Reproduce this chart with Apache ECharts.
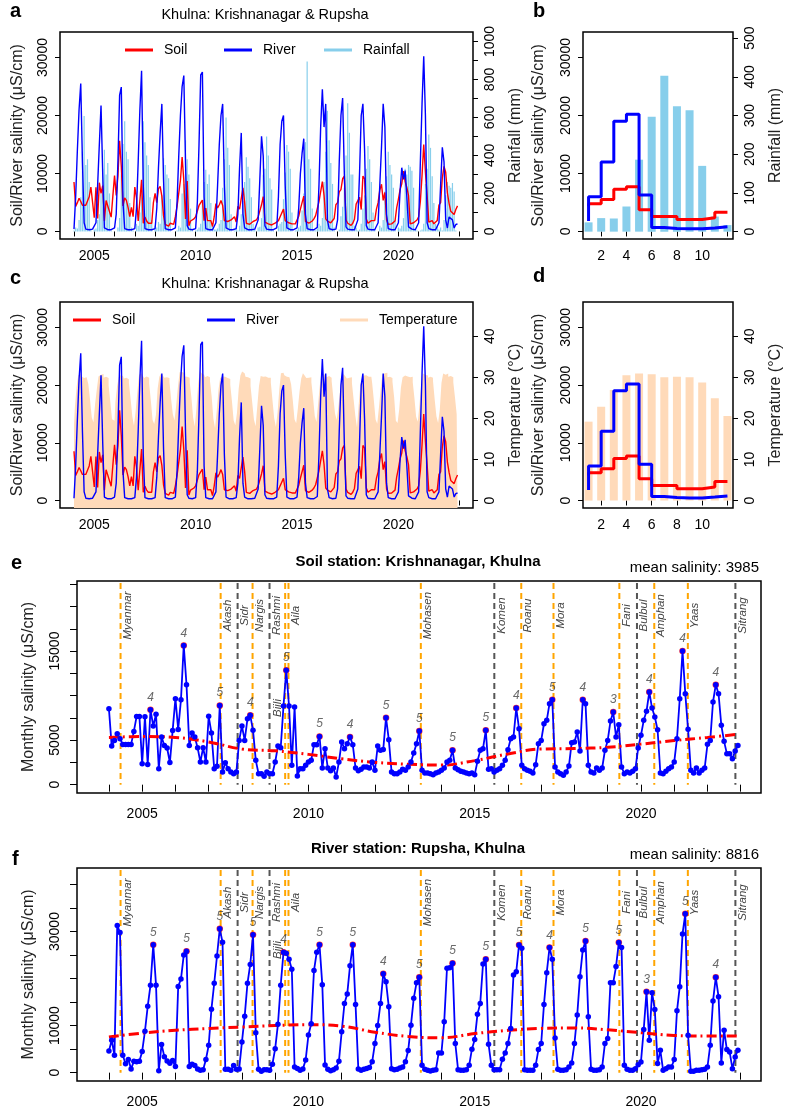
<!DOCTYPE html>
<html>
<head>
<meta charset="utf-8">
<script src="https://cdn.jsdelivr.net/npm/echarts@6/dist/echarts.min.js"></script>
<style>
  html, body { margin: 0; padding: 0; background: #fff; }
  #chart { width: 786px; height: 1113px; }
</style>
</head>
<body>
<div id="chart"></div>
<script>
// ---- data (monthly, Jan 2004 .. Dec 2022) ----
const startYear = 2004;
const yearTicks = [2004, 2005, 2006, 2007, 2008, 2009, 2010, 2011, 2012, 2013, 2014, 2015, 2016, 2017, 2018, 2019, 2020, 2021, 2022, 2023];
const yearLabels = [2005, 2010, 2015, 2020];
const monthTicks = [2, 4, 6, 8, 10, 12];
const monthLabels = [2, 4, 6, 8, 10];

// soil station Krishnanagar (uS/cm)
const soilSalinity = [
  8530, 4330, 4970, 5720, 5160, 4520, 4520, 4520, 4520, 5980, 7660, 7660,
  2360, 7630, 2260, 8410, 6580, 7910, 1800, 5340, 4400, 4120, 2480, 6090,
  9650, 6200, 9540, 15630, 11220, 4410, 5800, 5350, 4150, 2540, 4150, 2540,
  7670, 5800, 1800, 2060, 8900, 1420, 2470, 1800, 1420, 1230, 1420, 4970,
  6580, 4970, 7400, 7780, 6100, 2730, 1230, 1230, 935, 1420, 1230, 1230,
  2540, 4340, 4150, 8830, 12830, 8830, 2170, 8710, 970, 1800, 1800, 2170,
  2540, 2730, 4490, 4490, 5420, 1870, 4040, 1870, 1570, 1870, 860, 2540,
  4790, 4040, 4600, 5350, 4490, 1870, 1570, 1720, 1980, 1980, 1870, 2540,
  1610, 4340, 3850, 3960, 7520, 5050, 1420, 1230, 1230, 1420, 1720, 1610,
  1980, 2540, 3550, 4600, 6020, 1610, 1310, 1310, 1230, 1120, 1310, 1420,
  1610, 1870, 2540, 2730, 3850, 1870, 1680, 1500, 1420, 1310, 1230, 1310,
  1120, 2620, 3850, 4040, 6100, 1720, 1800, 1420, 1610, 1800, 2170, 2730,
  3930, 5160, 5350, 8600, 6280, 2170, 1800, 1610, 1500, 1310, 2240, 4600,
  4970, 6840, 7220, 9090, 9540, 1980, 1420, 1230, 1050, 1420, 2090, 4710,
  4790, 5910, 3780, 9540, 9090, 2170, 1420, 1310, 1870, 1610, 1870, 3850,
  4970, 7140, 8150, 5350, 6730, 1980, 1230, 1420, 1310, 1500, 1800, 4110,
  5540, 7220, 8230, 10400, 8600, 7590, 6170, 1310, 1230, 1500, 1800, 1980,
  2540, 5160, 9650, 15000, 10210, 6210, 1610, 1310, 1870, 1310, 1610, 1870,
  4530, 4970, 9280, 11220, 10210, 6660, 4860, 3480, 3480, 2920, 3780, 4410
];

// river station Rupsha, monthly salinity (panel f)
const riverSalinity = [
  4600, 6900, 3700, 31300, 29800, 3700, 1900, 2800, 800, 2400, 2300, 2400,
  4500, 8800, 14100, 18600, 27200, 18600, 400, 6000, 3400, 2500, 2000, 2600,
  1300, 18300, 19900, 25000, 25800, 1300, 1800, 1500, 800, 500, 600, 2800,
  5800, 13500, 19000, 24800, 30600, 27700, 700, 700, 500, 1500, 700, 800,
  6500, 12000, 19000, 23000, 29300, 8500, 700, 300, 600, 600, 500, 1800,
  5100, 10300, 18600, 25600, 25400, 24100, 22000, 1200, 900, 500, 800, 2700,
  8000, 10400, 21700, 25600, 27200, 18700, 1600, 700, 400, 600, 1000, 2400,
  8700, 14700, 16700, 22700, 27200, 14500, 800, 500, 700, 900, 1100, 2300,
  6200, 10000, 14700, 21000, 19300, 14000, 850, 600, 700, 1000, 1200, 2300,
  4700, 10100, 15800, 19100, 20300, 1560, 710, 500, 360, 500, 640, 4200,
  4200, 10800, 22200, 22300, 23250, 6200, 640, 500, 500, 640, 1560, 4980,
  7040, 12440, 14720, 23100, 24100, 6040, 1560, 640, 640, 640, 2840, 4200,
  6200, 9390, 20760, 21470, 27160, 26450, 640, 500, 500, 500, 1560, 4910,
  6200, 14500, 21260, 26590, 24100, 7390, 710, 500, 500, 640, 1200, 2060,
  6200, 12230, 20400, 26100, 28010, 11870, 710, 500, 500, 640, 1200, 6200,
  7250, 19130, 19130, 22540, 27660, 26590, 1560, 710, 500, 500, 850, 1700,
  2280, 9170, 17200, 6900, 17000, 13440, 1920, 4760, 500, 850, 1200, 1200,
  2770, 13150, 18270, 29500, 33770, 7960, 280, 280, 500, 500, 640, 710,
  1200, 5830, 15220, 20260, 16140, 2060, 9030, 4910, 4410, 850, 3340, 4760
];

// river series shown with rainfall / temperature (panels a, c)
const riverTs = [
  400, 6000, 14000, 21000, 25500, 12000, 1500, 400, 300, 300, 300, 400,
  400, 1500, 8000, 15000, 21700, 10000, 600, 400, 300, 300, 300, 400,
  600, 3000, 12000, 23500, 24900, 5000, 500, 400, 300, 300, 300, 400,
  500, 4000, 12000, 21000, 27700, 8000, 500, 400, 300, 300, 300, 400,
  500, 4000, 11000, 17000, 22000, 9000, 500, 400, 300, 300, 300, 400,
  600, 5000, 13000, 20000, 25000, 26900, 12000, 1000, 400, 300, 300, 400,
  500, 5000, 15000, 27000, 27500, 6000, 500, 400, 300, 300, 300, 400,
  1500, 8000, 15000, 20000, 22000, 8000, 600, 400, 300, 300, 300, 400,
  500, 3000, 11000, 17000, 3000, 600, 400, 300, 300, 300, 300, 400,
  500, 2000, 9000, 16400, 13000, 1000, 400, 300, 300, 300, 300, 400,
  600, 6000, 15000, 19000, 20000, 8000, 600, 400, 300, 300, 300, 400,
  600, 4000, 10000, 13500, 16000, 3000, 500, 400, 300, 300, 300, 400,
  700, 8000, 18000, 24500, 18000, 22000, 2000, 500, 300, 300, 300, 400,
  2000, 12000, 20000, 23000, 10000, 800, 400, 300, 300, 300, 300, 400,
  2000, 10000, 20000, 22000, 14000, 1000, 400, 300, 300, 300, 300, 400,
  1500, 8000, 14500, 22000, 18000, 3000, 500, 400, 300, 300, 300, 400,
  1500, 7000, 11000, 9000, 10500, 6000, 800, 500, 400, 300, 300, 400,
  1500, 12000, 22000, 30200, 20000, 1500, 500, 400, 300, 300, 300, 400,
  1500, 8000, 14500, 12000, 2000, 600, 2500, 2200, 2000, 600, 1200, 1300
];

// rainfall (mm)
const rainfall = [
  5, 20, 15, 60, 180, 420, 608, 350, 380, 260, 10, 0,
  10, 15, 60, 90, 200, 330, 430, 300, 360, 200, 5, 0,
  0, 0, 20, 70, 300, 460, 580, 420, 380, 150, 20, 5,
  0, 40, 30, 100, 220, 580, 470, 400, 350, 180, 60, 0,
  30, 20, 50, 40, 190, 385, 350, 300, 280, 170, 0, 0,
  0, 5, 30, 20, 200, 250, 480, 380, 300, 120, 10, 0,
  5, 10, 20, 40, 150, 260, 325, 250, 300, 150, 30, 10,
  10, 15, 40, 60, 230, 380, 600, 440, 350, 90, 0, 5,
  20, 5, 30, 90, 160, 260, 390, 340, 280, 180, 40, 10,
  0, 20, 25, 70, 300, 330, 500, 400, 280, 220, 5, 0,
  0, 30, 40, 50, 170, 310, 455, 420, 330, 100, 0, 5,
  10, 20, 30, 110, 200, 470, 895, 380, 330, 120, 10, 5,
  15, 40, 30, 70, 260, 420, 635, 480, 360, 250, 20, 0,
  0, 10, 80, 130, 230, 400, 675, 520, 300, 300, 30, 20,
  5, 10, 40, 120, 190, 330, 450, 380, 260, 100, 10, 0,
  0, 30, 20, 60, 210, 290, 420, 350, 300, 230, 60, 0,
  20, 15, 30, 70, 330, 300, 350, 340, 320, 230, 10, 5,
  0, 5, 10, 40, 250, 330, 510, 440, 290, 150, 40, 30,
  10, 20, 5, 60, 190, 260, 240, 230, 255, 210, 5, 0
];

// temperature (deg C)
const temperature = [
  18.5, 22.5, 27.5, 30.5, 30.8, 30.2, 29.8, 30.0, 29.6, 28.3, 24.5, 20.3,
  19.0, 23.5, 27.0, 30.2, 30.6, 30.8, 29.9, 30.1, 29.8, 28.0, 24.0, 19.8,
  19.4, 24.0, 27.8, 30.0, 30.5, 30.3, 29.7, 29.9, 29.5, 28.6, 24.8, 20.5,
  18.2, 21.8, 26.4, 30.6, 31.0, 30.5, 29.8, 30.2, 29.9, 28.4, 24.2, 19.6,
  18.6, 20.8, 27.2, 30.1, 30.9, 30.4, 29.9, 30.0, 29.8, 28.9, 24.6, 21.0,
  19.5, 23.2, 27.6, 31.2, 31.3, 31.0, 30.2, 30.1, 29.9, 28.8, 25.0, 20.2,
  18.0, 22.6, 28.4, 31.5, 31.0, 30.6, 30.0, 30.3, 30.0, 29.0, 25.2, 19.9,
  17.6, 21.9, 26.9, 29.8, 30.2, 30.1, 29.7, 29.8, 29.6, 28.2, 24.1, 19.5,
  18.3, 21.5, 27.3, 30.4, 31.4, 31.0, 30.1, 30.0, 29.7, 27.9, 23.8, 19.7,
  18.1, 23.0, 27.9, 30.3, 30.1, 30.2, 29.8, 29.9, 29.9, 28.7, 24.3, 20.0,
  17.9, 21.4, 27.0, 31.0, 31.1, 30.5, 30.1, 30.0, 29.8, 28.3, 24.4, 19.8,
  18.8, 22.4, 26.6, 29.7, 31.0, 30.4, 29.8, 29.9, 30.0, 28.8, 25.0, 20.6,
  19.1, 23.6, 28.0, 31.3, 30.7, 30.6, 30.0, 30.3, 29.9, 29.1, 25.0, 21.2,
  19.6, 22.9, 26.8, 29.9, 30.8, 30.3, 29.7, 29.9, 30.0, 28.6, 24.6, 20.7,
  17.8, 23.3, 28.1, 29.9, 30.4, 30.5, 30.1, 30.2, 30.1, 28.5, 24.3, 19.7,
  18.7, 22.7, 27.2, 30.6, 31.0, 31.1, 30.0, 30.1, 29.8, 28.9, 25.1, 19.4,
  18.9, 22.2, 27.5, 30.0, 30.4, 30.2, 29.9, 30.0, 30.1, 28.8, 24.9, 20.4,
  19.2, 23.4, 28.3, 30.9, 30.6, 30.4, 29.9, 30.1, 29.9, 29.0, 24.5, 20.5,
  18.9, 22.1, 28.6, 30.9, 30.6, 30.9, 30.1, 30.3, 30.0, 28.8, 25.1, 21.0
];

// monthly climatology (panels b, d)
const months = [1, 2, 3, 4, 5, 6, 7, 8, 9, 10, 11, 12];
const stepX = [1, 1, 2, 3, 4, 5, 6, 7, 8, 9, 10, 11, 12];
const soilByMonth = [4350, 4800, 5500, 7300, 7700, 3750, 2600, 2600, 2050, 2050, 2350, 3300, 3300];
const riverByMonth = [1800, 6000, 12000, 19000, 20200, 6300, 700, 500, 450, 450, 600, 800, 800];
const rainByMonth = [24, 35, 34, 65, 186, 297, 403, 324, 314, 170, 39, 17];
const tempByMonth = [19.2, 22.8, 26.9, 30.5, 30.9, 30.7, 30.0, 30.1, 30.0, 28.7, 24.9, 20.6];

// smooth trends (panels e, f)
const trendYears = [2004, 2005, 2006, 2007, 2008, 2009, 2010, 2011, 2012, 2013, 2014, 2015, 2016, 2017, 2018, 2019, 2020, 2021, 2022, 2022.9];
const soilTrend = [5300, 5400, 5300, 4800, 4000, 3800, 3400, 2900, 2500, 2300, 2200, 2700, 3450, 4000, 4050, 4200, 4550, 4950, 5300, 5650];
const riverTrend = [7600, 8400, 9000, 9400, 9700, 10000, 10200, 9900, 8600, 7700, 7400, 8300, 9000, 9400, 9500, 9100, 8500, 7900, 7800, 7800];

// cyclones
const cycloneNames = ['Myanmar', 'Akash', 'Sidr', 'Nargis', 'Rashmi', 'Bijli', 'Aila', 'Mohasen', 'Komen', 'Roanu', 'Mora', 'Fani', 'Bulbul', 'Amphan', 'Yaas', 'Sitrang'];
const cycloneDates = [2004.35, 2007.36, 2007.87, 2008.32, 2008.83, 2009.30, 2009.40, 2013.38, 2015.59, 2016.40, 2017.37, 2019.35, 2019.88, 2020.40, 2021.41, 2022.84];
const cycloneSeason = ['pre', 'pre', 'post', 'pre', 'post', 'pre', 'pre', 'pre', 'post', 'pre', 'pre', 'pre', 'post', 'pre', 'pre', 'post'];

const meanSoil = 3985;
const meanRiver = 8816;

// ---- helpers ----
const FONT = 'Liberation Sans, Arial, sans-serif';
const ts = arr => arr.map((v, i) => [startYear + i / 12, v]);
const pairs = (xs, ys) => xs.map((x, i) => [x, ys[i]]);

function yearlyPeaks(arr) {
  const out = [];
  for (let y = 1; y < arr.length / 12; y++) {
    let best = y * 12;
    for (let k = y * 12; k < y * 12 + 12; k++) if (arr[k] > arr[best]) best = k;
    out.push([startYear + best / 12, arr[best], (best % 12) + 1]);
  }
  return out;
}

function range(a, b, step) { const r = []; for (let v = a; v <= b; v += step) r.push(v); return r; }

function xAx(grid, min, max, ticks, labels, tickLen, margin) {
  return {
    type: 'value', gridIndex: grid, min, max,
    axisLine: { show: false }, splitLine: { show: false },
    axisTick: { show: true, customValues: ticks, length: tickLen, lineStyle: { color: '#000', width: 1 } },
    axisLabel: { customValues: labels, formatter: v => String(v), color: '#000', fontSize: 14, fontFamily: FONT, margin }
  };
}

function yAx(grid, pos, min, max, ticks, labels, name, gap, margin, tickLen) {
  return {
    type: 'value', gridIndex: grid, position: pos, min, max,
    name, nameLocation: 'middle', nameGap: gap, nameRotate: 90,
    nameTextStyle: { fontSize: 16, color: '#222', fontFamily: FONT },
    axisLine: { show: false }, splitLine: { show: false },
    axisTick: { show: true, customValues: ticks, length: tickLen, lineStyle: { color: '#000', width: 1 } },
    axisLabel: { customValues: labels, rotate: 90, formatter: v => String(v), color: '#000', fontSize: 14, fontFamily: FONT, margin }
  };
}

function cycloneRender(bijliDy) {
  return function (params, api) {
    const i = api.value(1);
    const cs = params.coordSys;
    const p = api.coord([api.value(0), 0]);
    const col = cycloneSeason[i] === 'post' ? '#555555' : '#FFA500';
    const special = cycloneNames[i] === 'Bijli';
    return {
      type: 'group',
      children: [
        { type: 'line', shape: { x1: p[0], y1: cs.y + 2, x2: p[0], y2: p[1] },
          style: { stroke: col, lineWidth: 2, lineDash: [6, 4] } },
        { type: 'text', x: special ? p[0] - 1 : p[0] + 1, y: cs.y + (special ? bijliDy : 34.5), rotation: Math.PI / 2,
          style: { text: cycloneNames[i], fill: '#444', font: 'italic 11.5px ' + FONT,
                   align: 'center', verticalAlign: special ? 'bottom' : 'top' } }
      ]
    };
  };
}

const cycloneData = cycloneDates.map((d, i) => [d, i]);

const txt = (x, y, text, font, align, vAlign) => ({
  type: 'text', x, y, silent: true,
  style: { text, font, fill: '#000', align: align || 'center', verticalAlign: vAlign || 'middle' }
});

const legendItem = (name, left, top) => ({
  data: [name], left, top, padding: 0, icon: 'rect', itemWidth: 28, itemHeight: 3,
  textStyle: { fontSize: 14, fontFamily: FONT, color: '#000', padding: [0, 0, 0, 6] }
});

const salAxTicks = [0, 10000, 20000, 30000];

const chart = echarts.init(document.getElementById('chart'), null, { renderer: 'canvas' });

const gridStyle = { show: true, borderColor: '#000', borderWidth: 1.5, backgroundColor: 'transparent' };

const option = {
  animation: false,
  backgroundColor: '#fff',
  grid: [
    Object.assign({ left: 60, top: 32, width: 413, height: 207 }, gridStyle),
    Object.assign({ left: 583, top: 32, width: 150, height: 207 }, gridStyle),
    Object.assign({ left: 60, top: 302, width: 413, height: 206 }, gridStyle),
    Object.assign({ left: 583, top: 302, width: 150, height: 206 }, gridStyle),
    Object.assign({ left: 77, top: 581, width: 684, height: 212 }, gridStyle),
    Object.assign({ left: 77, top: 868, width: 684, height: 213 }, gridStyle)
  ],
  xAxis: [
    xAx(0, 2003.31, 2023.68, yearTicks, yearLabels, 5, 10),
    xAx(1, 0.56, 12.44, monthTicks, monthLabels, 5, 10),
    xAx(2, 2003.31, 2023.68, yearTicks, yearLabels, 5, 10),
    xAx(3, 0.56, 12.44, monthTicks, monthLabels, 5, 10),
    xAx(4, 2003.04, 2023.61, yearTicks, yearLabels, 7, 14),
    xAx(5, 2003.04, 2023.61, yearTicks, yearLabels, 7, 14)
  ],
  yAxis: [
    yAx(0, 'left', -1300, 34400, salAxTicks, salAxTicks, 'Soil/River salinity (μS/cm)', 34, 10, 5),
    yAx(0, 'right', -40, 1050, range(0, 1000, 100), range(0, 1000, 200), 'Rainfall (mm)', 35, 10, 5),
    yAx(1, 'left', -1300, 34400, salAxTicks, salAxTicks, 'Soil/River salinity (μS/cm)', 36, 10, 5),
    yAx(1, 'right', -19, 516, range(0, 500, 100), range(0, 500, 100), 'Rainfall (mm)', 35, 10, 5),
    yAx(2, 'left', -1300, 34400, salAxTicks, salAxTicks, 'Soil/River salinity (μS/cm)', 34, 10, 5),
    yAx(2, 'right', -1.8, 48.3, range(0, 40, 10), range(0, 40, 10), 'Temperature (°C)', 35, 10, 5),
    yAx(3, 'left', -1300, 34400, salAxTicks, salAxTicks, 'Soil/River salinity (μS/cm)', 36, 10, 5),
    yAx(3, 'right', -1.8, 48.3, range(0, 40, 10), range(0, 40, 10), 'Temperature (°C)', 35, 10, 5),
    yAx(4, 'left', -935, 22860, range(0, 22500, 2500), [0, 5000, 15000], 'Monthly salinity (μS/cm)', 40, 15, 7),
    yAx(5, 'left', -1777, 43507, range(0, 40000, 5000), [0, 10000, 30000], 'Monthly salinity (μS/cm)', 40, 15, 7)
  ],
  legend: [
    legendItem('Soil', 125, 43),
    legendItem('River', 224, 43),
    legendItem('Rainfall', 324, 43),
    legendItem('Soil', 73, 313),
    legendItem('River', 207, 313),
    legendItem('Temperature', 340, 313)
  ],
  graphic: [
    txt(10, 11, 'a', 'bold 20px ' + FONT, 'left'),
    txt(533, 11, 'b', 'bold 20px ' + FONT, 'left'),
    txt(10, 278, 'c', 'bold 20px ' + FONT, 'left'),
    txt(533, 276, 'd', 'bold 20px ' + FONT, 'left'),
    txt(11, 563, 'e', 'bold 20px ' + FONT, 'left'),
    txt(12, 859, 'f', 'bold 20px ' + FONT, 'left'),
    txt(265, 15, 'Khulna: Krishnanagar & Rupsha', '14.5px ' + FONT),
    txt(265, 284, 'Khulna: Krishnanagar & Rupsha', '14.5px ' + FONT),
    txt(418, 562, 'Soil station: Krishnanagar, Khulna', 'bold 15px ' + FONT),
    txt(759, 568, 'mean salinity: ' + meanSoil, '15px ' + FONT, 'right'),
    txt(418, 849, 'River station: Rupsha, Khulna', 'bold 15px ' + FONT),
    txt(759, 855, 'mean salinity: ' + meanRiver, '15px ' + FONT, 'right')
  ],
  series: [
    // panel a
    { name: 'Rainfall', type: 'bar', xAxisIndex: 0, yAxisIndex: 1, data: ts(rainfall), barWidth: 1.2,
      itemStyle: { color: '#87CEEB' } },
    { name: 'Soil', type: 'line', xAxisIndex: 0, yAxisIndex: 0, data: ts(soilSalinity), showSymbol: false,
      lineStyle: { color: '#FF0000', width: 1.4 }, itemStyle: { color: '#FF0000' } },
    { name: 'River', type: 'line', xAxisIndex: 0, yAxisIndex: 0, data: ts(riverTs), showSymbol: false,
      lineStyle: { color: '#0000FF', width: 1.4 }, itemStyle: { color: '#0000FF' } },
    // panel b
    { type: 'bar', xAxisIndex: 1, yAxisIndex: 3, data: pairs(months, rainByMonth), barWidth: 8,
      itemStyle: { color: '#87CEEB' } },
    { type: 'line', step: 'end', xAxisIndex: 1, yAxisIndex: 2, data: pairs(stepX, soilByMonth), showSymbol: false,
      lineStyle: { color: '#FF0000', width: 3 } },
    { type: 'line', step: 'end', xAxisIndex: 1, yAxisIndex: 2, data: pairs(stepX, riverByMonth), showSymbol: false,
      lineStyle: { color: '#0000FF', width: 3 } },
    // panel c
    { name: 'Temperature', type: 'line', step: 'middle', xAxisIndex: 2, yAxisIndex: 5, data: ts(temperature), showSymbol: false,
      lineStyle: { width: 0, color: '#FFDAB9' }, itemStyle: { color: '#FFDAB9' },
      areaStyle: { color: '#FFDAB9', opacity: 1, origin: 'start' } },
    { name: 'Soil', type: 'line', xAxisIndex: 2, yAxisIndex: 4, data: ts(soilSalinity), showSymbol: false,
      lineStyle: { color: '#FF0000', width: 1.4 }, itemStyle: { color: '#FF0000' } },
    { name: 'River', type: 'line', xAxisIndex: 2, yAxisIndex: 4, data: ts(riverTs), showSymbol: false,
      lineStyle: { color: '#0000FF', width: 1.4 }, itemStyle: { color: '#0000FF' } },
    // panel d
    { type: 'bar', xAxisIndex: 3, yAxisIndex: 7, data: pairs(months, tempByMonth), barWidth: 8,
      itemStyle: { color: '#FFDAB9' } },
    { type: 'line', step: 'end', xAxisIndex: 3, yAxisIndex: 6, data: pairs(stepX, soilByMonth), showSymbol: false,
      lineStyle: { color: '#FF0000', width: 3 } },
    { type: 'line', step: 'end', xAxisIndex: 3, yAxisIndex: 6, data: pairs(stepX, riverByMonth), showSymbol: false,
      lineStyle: { color: '#0000FF', width: 3 } },
    // panel e
    { type: 'custom', xAxisIndex: 4, yAxisIndex: 8, data: cycloneData, encode: { x: 0, y: 1 },
      renderItem: cycloneRender(127), clip: false, silent: true },
    { type: 'line', xAxisIndex: 4, yAxisIndex: 8, data: ts(soilSalinity), symbol: 'circle', symbolSize: 5.5,
      showAllSymbol: true, lineStyle: { color: '#0000FF', width: 1.8 }, itemStyle: { color: '#0000FF' } },
    { type: 'line', xAxisIndex: 4, yAxisIndex: 8, data: pairs(trendYears, soilTrend), smooth: 0.4, showSymbol: false,
      lineStyle: { color: '#FF0000', width: 3, type: [10, 4, 2, 4] } },
    { type: 'scatter', xAxisIndex: 4, yAxisIndex: 8, data: yearlyPeaks(soilSalinity), symbolSize: 6.5,
      itemStyle: { color: '#FF0000' },
      label: { show: true, position: 'top', distance: 3, formatter: p => p.value[2], color: '#444',
               fontStyle: 'italic', fontSize: 12, fontFamily: FONT } },
    // panel f
    { type: 'custom', xAxisIndex: 5, yAxisIndex: 9, data: cycloneData, encode: { x: 0, y: 1 },
      renderItem: cycloneRender(82), clip: false, silent: true },
    { type: 'line', xAxisIndex: 5, yAxisIndex: 9, data: ts(riverSalinity), symbol: 'circle', symbolSize: 5.5,
      showAllSymbol: true, lineStyle: { color: '#0000FF', width: 1.8 }, itemStyle: { color: '#0000FF' } },
    { type: 'line', xAxisIndex: 5, yAxisIndex: 9, data: pairs(trendYears, riverTrend), smooth: 0.4, showSymbol: false,
      lineStyle: { color: '#FF0000', width: 3, type: [10, 4, 2, 4] } },
    { type: 'scatter', xAxisIndex: 5, yAxisIndex: 9, data: yearlyPeaks(riverSalinity), symbolSize: 6.5,
      itemStyle: { color: '#FF0000' },
      label: { show: true, position: 'top', distance: 3, formatter: p => p.value[2], color: '#444',
               fontStyle: 'italic', fontSize: 12, fontFamily: FONT } }
  ]
};

chart.setOption(option);
</script>
</body>
</html>
